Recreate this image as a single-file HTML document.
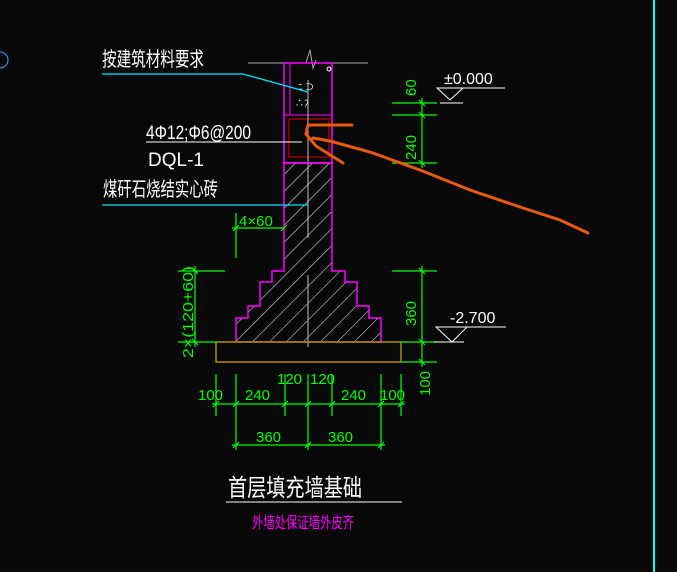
<!DOCTYPE html>
<html><head><meta charset="utf-8"><style>
html,body{margin:0;padding:0;background:#080808;}
svg{display:block}
text{font-family:"Liberation Sans","Noto Sans CJK SC",sans-serif;}
</style></head><body>
<svg width="677" height="572" viewBox="0 0 677 572" xmlns="http://www.w3.org/2000/svg">
<defs>
<pattern id="h" width="12" height="12" patternUnits="userSpaceOnUse" patternTransform="rotate(45)">
<line x1="0" y1="0" x2="0" y2="12" stroke="#fff" stroke-width="1"/>
</pattern>
</defs>
<rect width="677" height="572" fill="#080808"/>
<line x1="654" y1="0" x2="654" y2="572" stroke="#00ffff" stroke-width="2"/>
<path d="M0 52 A8 8 0 0 1 0 68" stroke="#3af" fill="none"/>

<line x1="248" y1="63" x2="368" y2="63" stroke="#aaa"/>
<path d="M306 63 L310 50 L313 68 L316 60" stroke="#aaa" fill="none"/>
<rect x="284" y="63" width="48" height="100" fill="none" stroke="#ff00ff" stroke-width="1.5"/>
<line x1="290" y1="63" x2="290" y2="115" stroke="#ff00ff"/>
<line x1="284" y1="115" x2="332" y2="115" stroke="#ff00ff"/>
<text x="298" y="90" fill="#fff" font-size="9">ﾆ ⊃</text>
<text x="295" y="106" fill="#fff" font-size="9">∴ﾌ</text>
<circle cx="329" cy="69" r="2" fill="none" stroke="#fff"/>
<rect x="289" y="119" width="40" height="38" fill="none" stroke="#e00000"/>
<line x1="308" y1="80" x2="308" y2="238" stroke="#bbb"/>

<path d="M284 163 L332 163 L332 271 L345 271 L345 282 L357 282 L357 306 L369 306 L369 318 L381 318 L381 342 L236 342 L236 318 L248 318 L248 306 L260 306 L260 282 L272 282 L272 271 L284 271 Z" fill="url(#h)" stroke="#ff00ff" stroke-width="1.5"/>
<line x1="308" y1="275" x2="308" y2="347" stroke="#bbb"/>
<rect x="216" y="342" width="185" height="20" fill="none" stroke="#a89000" stroke-width="1.5"/>

<polyline points="102,74 243,74 308,92" fill="none" stroke="#00e5ff" stroke-width="1.3"/>
<line x1="146" y1="142" x2="302" y2="142" stroke="#fff"/>
<line x1="102" y1="205" x2="308" y2="205" stroke="#00e5ff" stroke-width="1.3"/>
<text x="102" y="66" fill="#fff" font-size="20" textLength="102" lengthAdjust="spacingAndGlyphs">按建筑材料要求</text>
<text x="146" y="139" fill="#fff" font-size="19" textLength="105" lengthAdjust="spacingAndGlyphs">4Φ12;Φ6@200</text>
<text x="148" y="166" fill="#fff" font-size="19">DQL-1</text>
<text x="103" y="196" fill="#fff" font-size="20" textLength="115" lengthAdjust="spacingAndGlyphs">煤矸石烧结实心砖</text>

<g stroke="#00ff00" stroke-width="1.2" fill="none">
<line x1="392" y1="103" x2="437" y2="103"/>
<line x1="392" y1="115" x2="437" y2="115"/>
<line x1="392" y1="163" x2="437" y2="163"/>
<line x1="422" y1="98" x2="422" y2="168"/>
<line x1="236" y1="213" x2="236" y2="258"/>
<line x1="232" y1="228" x2="284" y2="228"/>
<line x1="392" y1="271" x2="437" y2="271"/>
<line x1="401" y1="342" x2="437" y2="342"/>
<line x1="401" y1="362" x2="437" y2="362"/>
<line x1="422" y1="266" x2="422" y2="367"/>
<line x1="178" y1="271" x2="225" y2="271"/>
<line x1="178" y1="342" x2="216" y2="342"/>
<line x1="195" y1="266" x2="195" y2="347"/>
<line x1="212" y1="404" x2="405" y2="404"/>
<line x1="216" y1="374" x2="216" y2="416"/>
<line x1="236" y1="374" x2="236" y2="450"/>
<line x1="285" y1="374" x2="285" y2="416"/>
<line x1="308" y1="374" x2="308" y2="450"/>
<line x1="332" y1="374" x2="332" y2="416"/>
<line x1="381" y1="374" x2="381" y2="450"/>
<line x1="401" y1="374" x2="401" y2="416"/>
<line x1="232" y1="445" x2="385" y2="445"/>
</g>
<g stroke="#00ff00" stroke-width="1.2">
<path d="M419 100l6 6M419 112l6 6M419 160l6 6M233 231l6-6M281 231l6-6M419 268l6 6M419 339l6 6M419 359l6 6M192 268l6 6M192 339l6 6M213 407l6-6M233 407l6-6M282 407l6-6M305 407l6-6M329 407l6-6M378 407l6-6M398 407l6-6M233 448l6-6M305 448l6-6M378 448l6-6"/>
</g>
<g fill="#00ff00" font-size="15">
<text transform="translate(416,96) rotate(-90)">60</text>
<text transform="translate(416,160) rotate(-90)">240</text>
<text transform="translate(416,326) rotate(-90)">360</text>
<text transform="translate(430,396) rotate(-90)">100</text>
<text transform="translate(193,358) rotate(-90)" textLength="92" lengthAdjust="spacingAndGlyphs">2×(120+60)</text>
<text x="239" y="226">4×60</text>
<text x="277" y="384">120</text>
<text x="310" y="384">120</text>
<text x="198" y="400">100</text>
<text x="245" y="400">240</text>
<text x="341" y="400">240</text>
<text x="380" y="400">100</text>
<text x="256" y="442">360</text>
<text x="328" y="442">360</text>
</g>

<line x1="437" y1="88" x2="505" y2="88" stroke="#fff"/>
<path d="M437 88 L463 88 L450 100 Z" fill="none" stroke="#fff"/>
<line x1="440" y1="103" x2="463" y2="103" stroke="#fff"/>
<text x="444" y="84" fill="#fff" font-size="16">±0.000</text>
<line x1="436" y1="327" x2="506" y2="327" stroke="#fff"/>
<path d="M436 327 L467 327 L452 342 Z" fill="none" stroke="#fff"/>
<line x1="434" y1="342" x2="464" y2="342" stroke="#fff"/>
<text x="450" y="323" fill="#fff" font-size="16">-2.700</text>

<path d="M352 125 L308 125 L306 134 L316 146 L343 163 M313 138 L330 141 L370 152 L420 170 L470 190 L520 207 L560 220 L588 233" fill="none" stroke="#e85a10" stroke-width="3" stroke-linecap="round"/>

<text x="228" y="496" fill="#fff" font-size="24" textLength="134" lengthAdjust="spacingAndGlyphs">首层填充墙基础</text>
<line x1="226" y1="502" x2="402" y2="502" stroke="#aaa" stroke-width="1.5"/>
<text x="252" y="528" fill="#ff00ff" font-size="16" textLength="102" lengthAdjust="spacingAndGlyphs">外墙处保证墙外皮齐</text>
</svg>
</body></html>
